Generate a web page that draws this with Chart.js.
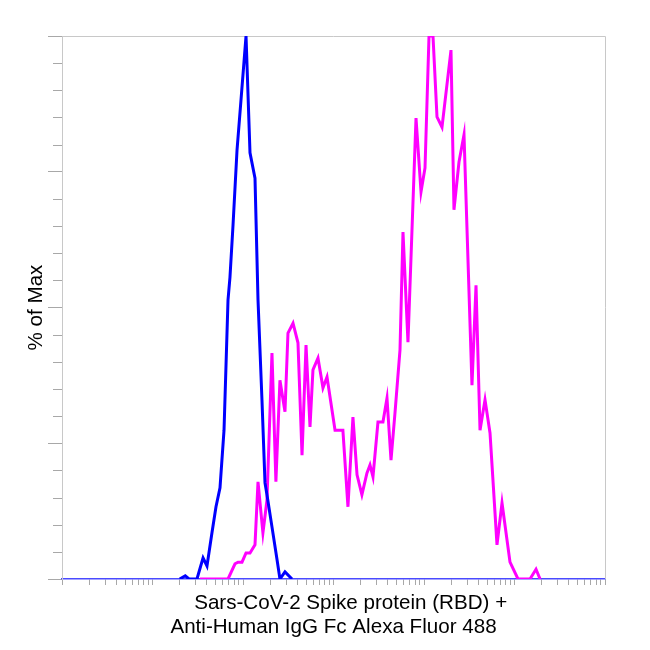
<!DOCTYPE html>
<html>
<head>
<meta charset="utf-8">
<script src="https://cdn.jsdelivr.net/npm/chart.js@4/dist/chart.umd.min.js"></script>
<style>
  html, body { margin: 0; padding: 0; background: #ffffff; }
  canvas { display: block; }
</style>
</head>
<body>
<canvas id="c" width="650" height="650"></canvas>
<script>
// Blue histogram (control): fluorescence intensity vs % of max
const blueIntensity = [20, 23, 25.3, 31, 36.2, 40, 45.4, 50.3, 55.7, 61.7, 68.3, 71.8, 77.6, 85.9, 95, 108, 119.5, 135.7, 146.5, 162, 175, 184, 209, 238, 256, 291, 348];
const bluePercent   = [0, 0.6, 0, 0, 3.9, 2.4, 8.5, 13.3, 16.8, 27.4, 51.4, 55.6, 65.2, 79, 88.2, 100, 78.5, 73.8, 51.4, 33, 17.7, 15.5, 9.6, 3.5, 0, 1.3, 0];

// Magenta histogram (stained sample)
const magentaIntensity = [33.5, 68.3, 81.6, 88.1, 97.5, 108, 119.5, 135.7, 146.5, 166, 184, 209, 231, 256, 291, 314, 357, 405, 449, 497, 550, 593, 674, 765, 848, 1040, 1270, 1445, 1640, 1820, 2060, 2340, 2530, 2730, 3100, 3520, 3900, 4320, 4780, 5430, 5860, 6650, 8160, 9270, 10260, 11360, 12570, 13920, 15810, 19870, 21440, 24360, 27670, 33900, 37560, 41590, 47230, 53630, 64080, 72780, 89200, 109300, 148400, 172900, 191600];
const magentaPercent   = [0, 0, 2.8, 3.1, 3.1, 4.8, 4.8, 6.3, 17.9, 8.5, 14.5, 41.6, 17.9, 36.6, 30.8, 45.3, 47.1, 43.5, 22.8, 43.1, 28, 38.5, 40.7, 35.2, 37.2, 27.4, 27.4, 13.3, 29.8, 19.2, 15.5, 19.5, 21, 18.8, 28.9, 28.9, 33.3, 21.9, 30.6, 42.2, 63.9, 43.6, 84.9, 71.3, 75.7, 100, 100, 85.1, 83.2, 97.4, 68, 76.8, 81.8, 35.7, 54.1, 27.4, 33, 26.9, 6.3, 14, 3.1, 0, 0, 1.8, 0];

// Axis tick positions (no tick labels are shown)
const xDecades = [1, 10, 100, 1000, 10000, 100000];
const xMinorMultipliers = [1, 2, 3, 4, 5, 6, 7, 8, 9];
const xTickValues = xDecades.flatMap(d => xMinorMultipliers.map(m => m * d)).concat([1000000]);
const yMajorTicks = [0, 25, 50, 75, 100];

const xTitleLines = ['      Sars-CoV-2 Spike protein (RBD) +', 'Anti-Human IgG Fc Alexa Fluor 488'];
const yTitle = '% of Max';

const FONT = "'Liberation Sans', Arial, sans-serif";
const AXIS_GRAY = '#c8c8c8';
const TICK_GRAY = '#a8a8a8';

const framePlugin = {
  id: 'frame',
  beforeDatasetsDraw(chart) {
    const { ctx, chartArea: { left, right, top, bottom }, scales: { y } } = chart;
    ctx.save();
    ctx.strokeStyle = AXIS_GRAY;
    ctx.lineWidth = 1;
    ctx.beginPath();
    ctx.moveTo(left, top + 0.5);
    ctx.lineTo(Math.round(right) + 0.5, top + 0.5);
    ctx.lineTo(Math.round(right) + 0.5, bottom);
    ctx.stroke();
    // short minor ticks on the y axis
    ctx.strokeStyle = TICK_GRAY;
    ctx.beginPath();
    for (let v = 5; v < 100; v += 5) {
      if (yMajorTicks.includes(v)) continue;
      const py = Math.round(y.getPixelForValue(v)) + 0.5;
      ctx.moveTo(left - 9, py);
      ctx.lineTo(left, py);
    }
    ctx.stroke();
    ctx.restore();
  }
};

new Chart(document.getElementById('c'), {
  type: 'line',
  data: {
    datasets: [
      {
        label: 'Control',
        data: blueIntensity.map((x, i) => ({ x, y: bluePercent[i] })),
        borderColor: '#0000ff',
        borderWidth: 3,
        pointRadius: 0,
        tension: 0,
        fill: false
      },
      {
        label: 'RBD + Anti-Human IgG Fc',
        data: magentaIntensity.map((x, i) => ({ x, y: magentaPercent[i] })),
        borderColor: '#ff00ff',
        borderWidth: 3,
        pointRadius: 0,
        tension: 0,
        fill: false
      }
    ]
  },
  options: {
    responsive: false,
    animation: false,
    devicePixelRatio: 1,
    layout: { padding: { top: 36, right: 45, left: 0, bottom: 0 } },
    plugins: { legend: { display: false }, tooltip: { enabled: false } },
    scales: {
      x: {
        type: 'logarithmic',
        min: 1,
        max: 1000000,
        afterBuildTicks: (scale) => { scale.ticks = xTickValues.map(v => ({ value: v })); },
        afterFit: (scale) => { scale.height = 71; },
        ticks: { display: false },
        grid: { drawOnChartArea: false, drawTicks: true, tickLength: 6, tickColor: TICK_GRAY, tickWidth: 1 },
        border: { color: '#4a4aff', width: 1.5 },
        title: {
          display: true,
          text: xTitleLines,
          color: '#000000',
          font: { family: FONT, size: 20.6, lineHeight: 1.17 },
          padding: { top: 0, bottom: 11 }
        }
      },
      y: {
        min: 0,
        max: 100,
        afterFit: (scale) => { scale.width = 62; },
        ticks: { display: false, stepSize: 5 },
        grid: {
          drawOnChartArea: false,
          drawTicks: true,
          tickLength: 14,
          tickColor: (ctx) => (ctx.tick && yMajorTicks.includes(ctx.tick.value)) ? TICK_GRAY : 'rgba(0,0,0,0)'
        },
        border: { color: AXIS_GRAY, width: 1 },
        title: {
          display: true,
          text: yTitle,
          color: '#000000',
          font: { family: FONT, size: 20.6, lineHeight: 1.2 },
          padding: { top: 24, bottom: 0 }
        }
      }
    }
  },
  plugins: [framePlugin]
});
</script>
</body>
</html>
